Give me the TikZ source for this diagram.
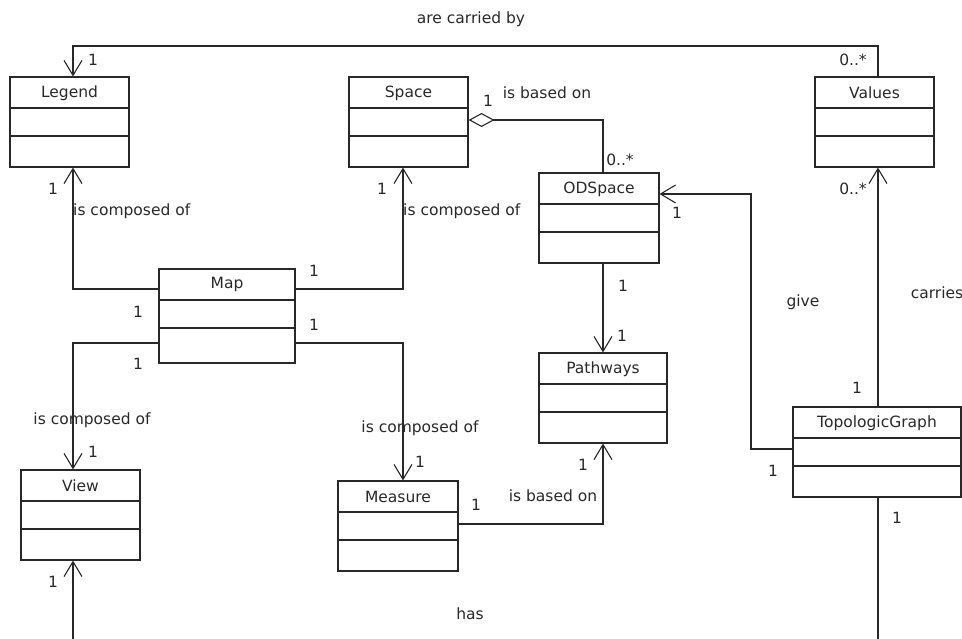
\documentclass[tikz,border=0pt]{standalone}
\usepackage{fontspec}
\setmainfont{DejaVu Sans}
\usetikzlibrary{arrows.meta}
\definecolor{ink}{RGB}{40,40,40}
\tikzset{
  every node/.style={font=\fontsize{15.5}{18}\selectfont, text=ink},
  ln/.style={line width=1.1pt, draw=ink},
  cls/.style 2 args={draw=ink, line width=1.1pt, minimum width=#1, minimum height=90pt,
    inner sep=0pt,
    label={[anchor=center,yshift=-16.5pt]north:#2},
    path picture={
      \draw[line width=1.1pt, draw=ink] ([yshift=-31pt]path picture bounding box.north west) -- ([yshift=-31pt]path picture bounding box.north east);
      \draw[line width=1.1pt, draw=ink] ([yshift=-59pt]path picture bounding box.north west) -- ([yshift=-59pt]path picture bounding box.north east);
    }},
  arr/.style={ln, -{Straight Barb[length=15pt,width=18pt,line width=1.1pt]}},
  agg/.style={ln, {Diamond[open,length=26pt,width=14pt,line width=1.1pt]}-},
  t/.style={inner sep=0pt},
}
\begin{document}
\begin{tikzpicture}[x=1pt,y=-1pt]
\useasboundingbox (0,0) rectangle (962,639);
% classes
\node[cls={119pt}{Legend}] (legend) at (69.5,122) {};
\node[cls={119pt}{Space}] (space) at (408.5,122) {};
\node[cls={119pt}{Values}] (values) at (874.5,122) {};
\node[cls={120pt}{ODSpace}] (odspace) at (599,218) {};
\node[cls={136pt}{Map}, minimum height=94pt] (map) at (227,316) {};
\node[cls={128pt}{Pathways}] (pathways) at (603,398) {};
\node[cls={168pt}{TopologicGraph}] (topo) at (877,452) {};
\node[cls={119pt}{View}] (view) at (80.5,515) {};
\node[cls={120pt}{Measure}] (measure) at (398,526) {};
% bend coordinates
\coordinate (cA) at (73,46);
\coordinate (cB) at (878,46);
\coordinate (cC) at (603,120);
\coordinate (cD) at (73,289);
\coordinate (cE) at (403,289);
\coordinate (cF) at (73,343);
\coordinate (cG) at (403,343);
\coordinate (cH) at (603,0);
\coordinate (cI) at (751,449);
\coordinate (cJ) at (751,194);
\coordinate (cK) at (603,524);
\coordinate (cL) at (73,639);
\coordinate (cM) at (878,639);
% connectors
\draw[arr] (values.north -| cB) -- (cB) -- (cA) -- (legend.north -| cA);
\draw[agg] ([yshift=2pt]space.east) -- (cC) -- (odspace.north -| cC);
\draw[arr] (map.west |- cD) -- (cD) -- (legend.south -| cD);
\draw[arr] (map.east |- cE) -- (cE) -- (space.south -| cE);
\draw[arr] (map.west |- cF) -- (cF) -- (view.north -| cF);
\draw[arr] (map.east |- cG) -- (cG) -- (measure.north -| cG);
\draw[arr] (odspace.south -| cH) -- (pathways.north -| cH);
\draw[arr] (topo.west |- cI) -- (cI) -- (cJ) -- (odspace.east |- cJ);
\draw[arr] (topo.north -| cB) -- (values.south -| cB);
\draw[arr] (measure.east |- cK) -- (cK) -- (pathways.south -| cK);
\draw[arr] (cL) -- (view.south -| cL);
\draw[ln] (topo.south -| cM) -- (cM);
% labels
\node[t] (l1) at (471,19) {are carried by};
\node[t] (l2) at (93,60) {1};
\node[t] (l3) at (853,60) {0..*};
\node[t] (l4) at (488,101) {1};
\node[t] (l5) at (547,93) {is based on};
\node[t] (l6) at (620,160) {0..*};
\node[t] (l7) at (53,189) {1};
\node[t,anchor=west] (l8) at (73,211) {is composed of};
\node[t] (l9) at (382,189) {1};
\node[t,anchor=west] (l10) at (403,211) {is composed of};
\node[t] (l11) at (314,271) {1};
\node[t] (l12) at (138,312) {1};
\node[t] (l13) at (314,325) {1};
\node[t] (l14) at (138,364) {1};
\node[t] (l15) at (92,420) {is composed of};
\node[t] (l16) at (93,452) {1};
\node[t] (l17) at (420,428) {is composed of};
\node[t] (l18) at (420,462) {1};
\node[t] (l19) at (677,213) {1};
\node[t] (l20) at (803,302) {give};
\node[t] (l21) at (623,286) {1};
\node[t] (l22) at (622,336) {1};
\node[t] (l23) at (853,189) {0..*};
\node[t] (l24) at (937,293) {carries};
\node[t] (l25) at (857,388) {1};
\node[t] (l26) at (773,471) {1};
\node[t] (l27) at (476,505) {1};
\node[t] (l28) at (583,465) {1};
\node[t] (l29) at (553,496) {is based on};
\node[t] (l30) at (53,582) {1};
\node[t] (l31) at (470,614) {has};
\node[t] (l32) at (897,518) {1};
\end{tikzpicture}
\end{document}
